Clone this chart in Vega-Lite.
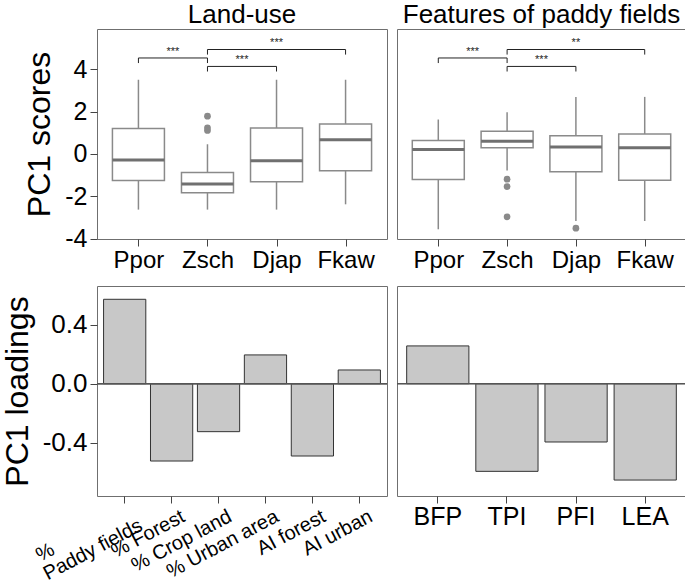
{
  "$schema": "https://vega.github.io/schema/vega-lite/v6.json",
  "padding": {"left": 0, "top": 1, "right": 0, "bottom": 0},
  "config": {
    "font": "Liberation Sans",
    "view": {"stroke": "#6f6f6f", "strokeWidth": 1},
    "axis": {"domain": false, "grid": false, "tickColor": "#444", "tickSize": 7, "labelColor": "#000", "titleColor": "#000", "titleFontWeight": "normal", "labelPadding": 3, "labelOverlap": false, "labelLimit": 0},
    "title": {"fontSize": 26, "fontWeight": "normal", "offset": 1, "anchor": "middle", "color": "#000"}
  },
  "datasets": {
    "boxLand": [
      {"group": "Ppor", "lower": -2.63, "q1": -1.25, "median": -0.28, "q3": 1.21, "upper": 3.51},
      {"group": "Zsch", "lower": -2.63, "q1": -1.83, "median": -1.42, "q3": -0.88, "upper": 0.46},
      {"group": "Djap", "lower": -2.63, "q1": -1.31, "median": -0.32, "q3": 1.23, "upper": 3.51},
      {"group": "Fkaw", "lower": -2.38, "q1": -0.79, "median": 0.67, "q3": 1.42, "upper": 3.51}
    ],
    "outLand": [
      {"group": "Zsch", "value": 1.79},
      {"group": "Zsch", "value": 1.24},
      {"group": "Zsch", "value": 1.11}
    ],
    "brLand": [
      {"x1": 1, "x2": 2, "y": 4.54, "y0": 4.30, "mid": 1.5, "ty": 4.69, "label": "***"},
      {"x1": 2, "x2": 3, "y": 4.14, "y0": 3.90, "mid": 2.5, "ty": 4.29, "label": "***"},
      {"x1": 2, "x2": 4, "y": 4.94, "y0": 4.70, "mid": 3.0, "ty": 5.09, "label": "***"}
    ],
    "boxPaddy": [
      {"group": "Ppor", "lower": -3.56, "q1": -1.21, "median": 0.21, "q3": 0.64, "upper": 1.63},
      {"group": "Zsch", "lower": -0.78, "q1": 0.30, "median": 0.60, "q3": 1.08, "upper": 1.97},
      {"group": "Djap", "lower": -3.17, "q1": -0.84, "median": 0.33, "q3": 0.86, "upper": 2.70},
      {"group": "Fkaw", "lower": -3.17, "q1": -1.24, "median": 0.29, "q3": 0.94, "upper": 2.70}
    ],
    "outPaddy": [
      {"group": "Zsch", "value": -1.19},
      {"group": "Zsch", "value": -1.54},
      {"group": "Zsch", "value": -2.97},
      {"group": "Djap", "value": -3.51}
    ],
    "brPaddy": [
      {"x1": 1, "x2": 2, "y": 4.54, "y0": 4.30, "mid": 1.5, "ty": 4.69, "label": "***"},
      {"x1": 2, "x2": 3, "y": 4.14, "y0": 3.90, "mid": 2.5, "ty": 4.29, "label": "***"},
      {"x1": 2, "x2": 4, "y": 4.94, "y0": 4.70, "mid": 3.0, "ty": 5.09, "label": "**"}
    ],
    "loadLand": [
      {"variable": "% Paddy fields", "loading": 0.572},
      {"variable": "% Forest", "loading": -0.524},
      {"variable": "% Crop land", "loading": -0.325},
      {"variable": "% Urban area", "loading": 0.195},
      {"variable": "AI forest", "loading": -0.49},
      {"variable": "AI urban", "loading": 0.093}
    ],
    "loadPaddy": [
      {"variable": "BFP", "loading": 0.256},
      {"variable": "TPI", "loading": -0.594},
      {"variable": "PFI", "loading": -0.395},
      {"variable": "LEA", "loading": -0.653}
    ]
  },
  "columns": 2,
  "spacing": {"row": 12, "column": 8},
  "concat": [
    {
      "title": "Land-use",
      "width": 290,
      "height": 210,
      "layer": [
        {
          "data": {"name": "boxLand"},
          "layer": [
            {
              "mark": {"type": "rule", "color": "#8a8a8a", "strokeWidth": 1.5},
              "encoding": {
                "x": {"field": "group", "type": "nominal", "scale": {"type": "point", "domain": ["Ppor", "Zsch", "Djap", "Fkaw"], "padding": 0.6}, "axis": {"title": null, "labelFontSize": 24, "labelAngle": 0, "labelPadding": 2}},
                "y": {"field": "lower", "type": "quantitative", "scale": {"domain": [-4.02, 5.91], "nice": false, "zero": false}, "axis": {"values": [-4, -2, 0, 2, 4], "title": "PC1 scores", "labelFontSize": 25, "titleFontSize": 32, "titlePadding": 8, "labelExpr": "datum.value < 0 ? '-' + (-datum.value) : '' + datum.value"}},
                "y2": {"field": "upper"}
              }
            },
            {
              "mark": {"type": "bar", "size": 52, "fill": "white", "stroke": "#8a8a8a", "strokeWidth": 1.5},
              "encoding": {
                "x": {"field": "group", "type": "nominal", "scale": {"type": "point", "domain": ["Ppor", "Zsch", "Djap", "Fkaw"], "padding": 0.6}},
                "y": {"field": "q1", "type": "quantitative", "scale": {"domain": [-4.02, 5.91], "nice": false, "zero": false}},
                "y2": {"field": "q3"}
              }
            },
            {
              "mark": {"type": "tick", "size": 52, "thickness": 3, "color": "#707070", "opacity": 1},
              "encoding": {
                "x": {"field": "group", "type": "nominal", "scale": {"type": "point", "domain": ["Ppor", "Zsch", "Djap", "Fkaw"], "padding": 0.6}},
                "y": {"field": "median", "type": "quantitative", "scale": {"domain": [-4.02, 5.91], "nice": false, "zero": false}}
              }
            },
            {
              "data": {"name": "outLand"},
              "mark": {"type": "circle", "size": 45, "color": "#8a8a8a", "opacity": 1},
              "encoding": {
                "x": {"field": "group", "type": "nominal", "scale": {"type": "point", "domain": ["Ppor", "Zsch", "Djap", "Fkaw"], "padding": 0.6}},
                "y": {"field": "value", "type": "quantitative", "scale": {"domain": [-4.02, 5.91], "nice": false, "zero": false}}
              }
            }
          ]
        },
        {
          "data": {"name": "brLand"},
          "layer": [
            {
              "mark": {"type": "rule", "color": "#222", "strokeWidth": 1},
              "encoding": {
                "x": {"field": "x1", "type": "quantitative", "scale": {"domain": [0.4, 4.6], "nice": false, "zero": false}, "axis": null},
                "x2": {"field": "x2"},
                "y": {"field": "y", "type": "quantitative", "scale": {"domain": [-4.02, 5.91], "nice": false, "zero": false}}
              }
            },
            {
              "mark": {"type": "rule", "color": "#222", "strokeWidth": 1},
              "encoding": {
                "x": {"field": "x1", "type": "quantitative"},
                "y": {"field": "y", "type": "quantitative"},
                "y2": {"field": "y0"}
              }
            },
            {
              "mark": {"type": "rule", "color": "#222", "strokeWidth": 1},
              "encoding": {
                "x": {"field": "x2", "type": "quantitative"},
                "y": {"field": "y", "type": "quantitative"},
                "y2": {"field": "y0"}
              }
            },
            {
              "mark": {"type": "text", "fontSize": 11, "baseline": "alphabetic", "align": "center", "color": "#222"},
              "encoding": {
                "x": {"field": "mid", "type": "quantitative"},
                "y": {"field": "ty", "type": "quantitative"},
                "text": {"field": "label"}
              }
            }
          ]
        }
      ],
      "resolve": {"scale": {"x": "independent"}}
    },
    {
      "title": "Features of paddy fields",
      "width": 289,
      "height": 210,
      "layer": [
        {
          "data": {"name": "boxPaddy"},
          "layer": [
            {
              "mark": {"type": "rule", "color": "#8a8a8a", "strokeWidth": 1.5},
              "encoding": {
                "x": {"field": "group", "type": "nominal", "scale": {"type": "point", "domain": ["Ppor", "Zsch", "Djap", "Fkaw"], "padding": 0.6}, "axis": {"title": null, "labelFontSize": 24, "labelAngle": 0, "labelPadding": 2}},
                "y": {"field": "lower", "type": "quantitative", "scale": {"domain": [-4.02, 5.91], "nice": false, "zero": false}, "axis": null},
                "y2": {"field": "upper"}
              }
            },
            {
              "mark": {"type": "bar", "size": 52, "fill": "white", "stroke": "#8a8a8a", "strokeWidth": 1.5},
              "encoding": {
                "x": {"field": "group", "type": "nominal", "scale": {"type": "point", "domain": ["Ppor", "Zsch", "Djap", "Fkaw"], "padding": 0.6}},
                "y": {"field": "q1", "type": "quantitative", "scale": {"domain": [-4.02, 5.91], "nice": false, "zero": false}},
                "y2": {"field": "q3"}
              }
            },
            {
              "mark": {"type": "tick", "size": 52, "thickness": 3, "color": "#707070", "opacity": 1},
              "encoding": {
                "x": {"field": "group", "type": "nominal", "scale": {"type": "point", "domain": ["Ppor", "Zsch", "Djap", "Fkaw"], "padding": 0.6}},
                "y": {"field": "median", "type": "quantitative", "scale": {"domain": [-4.02, 5.91], "nice": false, "zero": false}}
              }
            },
            {
              "data": {"name": "outPaddy"},
              "mark": {"type": "circle", "size": 45, "color": "#8a8a8a", "opacity": 1},
              "encoding": {
                "x": {"field": "group", "type": "nominal", "scale": {"type": "point", "domain": ["Ppor", "Zsch", "Djap", "Fkaw"], "padding": 0.6}},
                "y": {"field": "value", "type": "quantitative", "scale": {"domain": [-4.02, 5.91], "nice": false, "zero": false}}
              }
            }
          ]
        },
        {
          "data": {"name": "brPaddy"},
          "layer": [
            {
              "mark": {"type": "rule", "color": "#222", "strokeWidth": 1},
              "encoding": {
                "x": {"field": "x1", "type": "quantitative", "scale": {"domain": [0.4, 4.6], "nice": false, "zero": false}, "axis": null},
                "x2": {"field": "x2"},
                "y": {"field": "y", "type": "quantitative", "scale": {"domain": [-4.02, 5.91], "nice": false, "zero": false}}
              }
            },
            {
              "mark": {"type": "rule", "color": "#222", "strokeWidth": 1},
              "encoding": {
                "x": {"field": "x1", "type": "quantitative"},
                "y": {"field": "y", "type": "quantitative"},
                "y2": {"field": "y0"}
              }
            },
            {
              "mark": {"type": "rule", "color": "#222", "strokeWidth": 1},
              "encoding": {
                "x": {"field": "x2", "type": "quantitative"},
                "y": {"field": "y", "type": "quantitative"},
                "y2": {"field": "y0"}
              }
            },
            {
              "mark": {"type": "text", "fontSize": 11, "baseline": "alphabetic", "align": "center", "color": "#222"},
              "encoding": {
                "x": {"field": "mid", "type": "quantitative"},
                "y": {"field": "ty", "type": "quantitative"},
                "text": {"field": "label"}
              }
            }
          ]
        }
      ],
      "resolve": {"scale": {"x": "independent"}}
    },
    {
      "width": 290,
      "height": 210,
      "data": {"name": "loadLand"},
      "layer": [
        {
          "mark": {"type": "bar", "fill": "#c8c8c8", "stroke": "#333", "strokeWidth": 1},
          "encoding": {
            "x": {"field": "variable", "type": "nominal", "sort": null, "scale": {"paddingInner": 0.1, "paddingOuter": 0.14}, "axis": {"title": null, "labelFontSize": 20, "labelAngle": -28, "labelAlign": "right", "labelBaseline": {"condition": {"test": "datum.value == '% Paddy fields'", "value": "middle"}, "value": "top"}, "labelPadding": 3, "labelOffset": 7, "labelLineHeight": 20, "labelExpr": "datum.label == '% Paddy fields' ? ['%\u00a0\u00a0\u00a0\u00a0\u00a0\u00a0\u00a0\u00a0\u00a0\u00a0\u00a0\u00a0\u00a0\u00a0\u00a0\u00a0\u200b', 'Paddy fields'] : datum.label"}},
            "y": {"field": "loading", "type": "quantitative", "scale": {"domain": [-0.761, 0.662], "nice": false}, "axis": {"values": [-0.4, 0, 0.4], "title": "PC1 loadings", "labelFontSize": 26, "titleFontSize": 32, "titlePadding": 8, "labelExpr": "datum.value < 0 ? '-' + format(-datum.value, '.1f') : format(datum.value, '.1f')"}}
          }
        },
        {
          "mark": {"type": "rule", "color": "#555", "strokeWidth": 1},
          "encoding": {"y": {"datum": 0, "type": "quantitative"}}
        }
      ]
    },
    {
      "width": 289,
      "height": 210,
      "data": {"name": "loadPaddy"},
      "layer": [
        {
          "mark": {"type": "bar", "fill": "#c8c8c8", "stroke": "#333", "strokeWidth": 1},
          "encoding": {
            "x": {"field": "variable", "type": "nominal", "sort": null, "scale": {"paddingInner": 0.1, "paddingOuter": 0.14}, "axis": {"title": null, "labelFontSize": 25, "labelAngle": 0, "labelPadding": 1}},
            "y": {"field": "loading", "type": "quantitative", "scale": {"domain": [-0.761, 0.662], "nice": false}, "axis": null}
          }
        },
        {
          "mark": {"type": "rule", "color": "#555", "strokeWidth": 1},
          "encoding": {"y": {"datum": 0, "type": "quantitative"}}
        }
      ]
    }
  ]
}
